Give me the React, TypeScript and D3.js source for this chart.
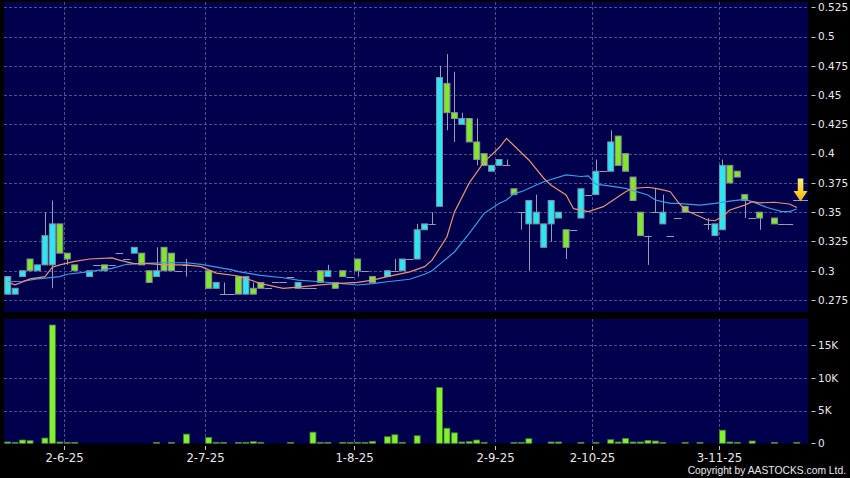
import React, { useEffect, useRef } from 'react';
import * as d3 from 'd3';

// daily bars, null = no bar drawn
const opens = [
  0.28, 0.28, 0.295, 0.31, 0.30, 0.305, 0.305, 0.34, 0.315, 0.305,
  null, 0.295, 0.305, 0.305, 0.305, 0.315, 0.31, 0.315, 0.315, 0.30,
  0.295, 0.32, 0.315, 0.30, 0.305, null, null, 0.30, 0.285, 0.28,
  0.28, 0.295, 0.28, 0.285, 0.29, 0.285, 0.29, 0.29, 0.295, 0.285,
  0.285, 0.285, 0.30, 0.295, 0.29, 0.30, 0.295, 0.31, 0.30, 0.295,
  null, 0.295, 0.30, 0.30, 0.31, 0.31, 0.335, 0.34, 0.355, 0.46,
  0.435, 0.425, 0.43, 0.41, 0.40, 0.385, 0.39, 0.39, 0.37, 0.35,
  0.34, 0.34, 0.32, 0.34, 0.345, 0.335, 0.335, 0.345, 0.365, 0.365,
  0.385, 0.385, 0.415, 0.40, 0.38, 0.35, 0.33, 0.35, 0.34, 0.33,
  0.345, 0.355, 0.35, 0.35, 0.34, 0.33, 0.335, 0.39, 0.385, 0.365,
  0.345, 0.35, null, 0.345, 0.34, 0.34, 0.36, 0.36,
];
const highs = [
  0.295, 0.285, 0.30, 0.31, 0.305, 0.35, 0.36, 0.34, 0.315, 0.305,
  null, 0.30, 0.305, 0.305, 0.305, 0.315, 0.31, 0.32, 0.315, 0.30,
  0.32, 0.32, 0.315, 0.30, 0.31, null, null, 0.30, 0.29, 0.29,
  0.28, 0.295, 0.295, 0.29, 0.29, 0.285, 0.29, 0.29, 0.295, 0.29,
  0.285, 0.285, 0.30, 0.305, 0.29, 0.30, 0.295, 0.31, 0.30, 0.295,
  null, 0.30, 0.31, 0.31, 0.31, 0.34, 0.34, 0.35, 0.475, 0.485,
  0.47, 0.435, 0.43, 0.43, 0.40, 0.39, 0.395, 0.395, 0.37, 0.35,
  0.36, 0.365, 0.34, 0.36, 0.35, 0.335, 0.335, 0.37, 0.365, 0.395,
  0.385, 0.42, 0.415, 0.40, 0.38, 0.35, 0.33, 0.37, 0.365, 0.33,
  0.345, 0.355, 0.35, 0.35, 0.345, 0.34, 0.395, 0.39, 0.385, 0.365,
  0.345, 0.35, null, 0.345, 0.34, 0.34, 0.36, 0.36,
];
const lows = [
  0.28, 0.28, 0.295, 0.30, 0.30, 0.305, 0.285, 0.315, 0.305, 0.30,
  null, 0.295, 0.305, 0.30, 0.305, 0.315, 0.31, 0.315, 0.305, 0.29,
  0.295, 0.30, 0.30, 0.30, 0.295, null, null, 0.285, 0.285, 0.28,
  0.28, 0.28, 0.28, 0.28, 0.285, 0.285, 0.29, 0.29, 0.295, 0.285,
  0.285, 0.285, 0.29, 0.295, 0.285, 0.295, 0.295, 0.295, 0.30, 0.29,
  null, 0.295, 0.30, 0.30, 0.31, 0.31, 0.335, 0.34, 0.355, 0.42,
  0.41, 0.425, 0.41, 0.39, 0.39, 0.385, 0.39, 0.39, 0.365, 0.335,
  0.30, 0.34, 0.32, 0.325, 0.345, 0.31, 0.335, 0.345, 0.365, 0.365,
  0.385, 0.385, 0.39, 0.385, 0.36, 0.33, 0.305, 0.35, 0.34, 0.33,
  0.345, 0.35, 0.35, 0.35, 0.335, 0.33, 0.335, 0.375, 0.38, 0.345,
  0.345, 0.335, null, 0.34, 0.34, 0.34, 0.36, 0.36,
];
const closes = [
  0.295, 0.285, 0.30, 0.30, 0.305, 0.33, 0.34, 0.315, 0.31, 0.30,
  null, 0.30, 0.305, 0.30, 0.305, 0.315, 0.31, 0.32, 0.305, 0.29,
  0.30, 0.30, 0.30, 0.30, 0.305, null, null, 0.285, 0.29, 0.28,
  0.28, 0.28, 0.295, 0.28, 0.285, 0.285, 0.29, 0.29, 0.295, 0.29,
  0.285, 0.285, 0.29, 0.30, 0.285, 0.295, 0.295, 0.30, 0.30, 0.29,
  null, 0.30, 0.30, 0.31, 0.31, 0.335, 0.34, 0.34, 0.465, 0.435,
  0.43, 0.43, 0.41, 0.395, 0.39, 0.39, 0.395, 0.39, 0.365, 0.35,
  0.36, 0.35, 0.34, 0.36, 0.35, 0.32, 0.335, 0.37, 0.365, 0.385,
  0.385, 0.41, 0.39, 0.385, 0.36, 0.33, 0.33, 0.35, 0.35, 0.33,
  0.345, 0.35, 0.35, 0.35, 0.34, 0.34, 0.39, 0.375, 0.38, 0.36,
  0.345, 0.345, null, 0.34, 0.34, 0.34, 0.36, 0.36,
];
const volumes = [
  200, 100, 500, 400, 0, 800, 18050, 200, 50, 150,
  0, 0, 0, 0, 0, 0, 0, 0, 0, 0,
  100, 0, 100, 0, 1400, 0, 0, 900, 100, 80,
  0, 100, 100, 250, 80, 0, 0, 0, 100, 0,
  0, 1700, 150, 100, 0, 100, 150, 150, 150, 300,
  0, 1000, 1300, 100, 0, 1150, 0, 0, 8500, 2300,
  1600, 200, 250, 500, 100, 0, 0, 0, 100, 50,
  700, 0, 0, 200, 200, 0, 0, 100, 0, 100,
  0, 550, 200, 750, 200, 200, 450, 350, 100, 0,
  0, 100, 0, 50, 0, 0, 2000, 200, 100, 0,
  350, 0, 0, 50, 0, 0, 150, 0,
];

// moving averages: [bar index, value]
const maShort: [number, number][] = [
  [0, 0.29], [1, 0.288], [3, 0.293], [5, 0.295], [6, 0.303], [7, 0.305], [9, 0.308],
  [11, 0.31], [14, 0.311], [15, 0.309], [17, 0.306], [19, 0.306], [21, 0.305], [24, 0.305],
  [26, 0.3035], [28, 0.298], [31, 0.2955], [34, 0.289], [37, 0.285], [39, 0.286], [42, 0.288],
  [44, 0.289], [47, 0.29], [49, 0.292], [51, 0.295], [54, 0.299], [56, 0.3035], [57, 0.309],
  [59, 0.329], [60, 0.35], [62, 0.375], [64, 0.393], [66, 0.405], [67, 0.413], [70, 0.3946],
  [72, 0.379], [73, 0.373], [75, 0.3647], [76, 0.353], [78, 0.3505], [80, 0.3547], [81, 0.359],
  [83, 0.3675], [84, 0.3704], [86, 0.3713], [87, 0.3704], [88, 0.369], [89, 0.3675], [90, 0.359],
  [91, 0.3519], [94, 0.3433], [95, 0.3427], [96, 0.346], [97, 0.3519], [99, 0.356], [100, 0.359],
  [101, 0.358], [103, 0.3585], [105, 0.357], [106, 0.354],
];
const maLong: [number, number][] = [
  [0, 0.2906], [2, 0.291], [4, 0.293], [7, 0.295], [8, 0.297], [11, 0.2992], [14, 0.302],
  [16, 0.3055], [18, 0.3063], [21, 0.3068], [24, 0.3068], [26, 0.3055], [29, 0.302], [30, 0.301],
  [31, 0.2992], [34, 0.296], [37, 0.294], [39, 0.292], [42, 0.2906], [45, 0.289], [47, 0.2878],
  [49, 0.289], [51, 0.2906], [54, 0.2927], [56, 0.297], [57, 0.30], [60, 0.316], [62, 0.332],
  [64, 0.349], [66, 0.3575], [67, 0.3604], [68, 0.366], [69, 0.3675], [71, 0.3732], [72, 0.376],
  [75, 0.3818], [77, 0.3805], [78, 0.381], [79, 0.374], [81, 0.3723], [83, 0.3704], [86, 0.3647],
  [87, 0.3604], [89, 0.3575], [90, 0.3575], [93, 0.356], [95, 0.3575], [97, 0.3595], [99, 0.361],
  [100, 0.359], [102, 0.354], [104, 0.3505], [105, 0.3505], [106, 0.3527],
];

const dateLabels = ['2-6-25', '2-7-25', '1-8-25', '2-9-25', '2-10-25', '3-11-25'];
const dateIndex = [8, 27, 47, 66, 79, 96];
const priceTicks = [0.275, 0.3, 0.325, 0.35, 0.375, 0.4, 0.425, 0.45, 0.475, 0.5, 0.525];
const volumeTicks = [0, 5000, 10000, 15000];

const App: React.FC = () => {
  const svgRef = useRef<SVGSVGElement>(null);

  useEffect(() => {
    if (!svgRef.current) return;
    const svg = d3.select(svgRef.current);
    svg.selectAll('*').remove();

    const width = 850;
    const height = 478;
    const left = 4;
    const right = 808;
    const priceTop = 2;
    const priceBottom = 312;
    const volTop = 319;
    const volBottom = 443.5;
    const font = '"DejaVu Sans", Verdana, sans-serif';
    const gridColor = '#4d4d8f';

    svg.attr('width', width).attr('height', height);
    svg.append('rect').attr('width', width).attr('height', height).attr('fill', '#000000');

    const defs = svg.append('defs');
    const grad = defs.append('linearGradient').attr('id', 'arrowGrad')
      .attr('x1', 0).attr('y1', 0).attr('x2', 0).attr('y2', 1);
    grad.append('stop').attr('offset', '0%').attr('stop-color', '#fff27a');
    grad.append('stop').attr('offset', '100%').attr('stop-color', '#f2b400');

    const x = d3.scaleBand<number>()
      .domain(d3.range(opens.length))
      .range([left, right])
      .paddingInner(0.2)
      .paddingOuter(0.1);
    const step = x.step();
    const bw = x.bandwidth();
    const slotStart = (i: number) => (x(i) as number) - (step - bw) / 2;
    const cx = (i: number) => (x(i) as number) + bw / 2;

    const y = d3.scaleLinear().domain([0.275, 0.525]).range([300, 7.3]);
    const yv = d3.scaleLinear().domain([0, 15000]).range([443.3, 345]);

    // panels
    svg.append('rect').attr('x', left).attr('y', priceTop)
      .attr('width', right - left).attr('height', priceBottom - priceTop).attr('fill', '#00004c');
    svg.append('rect').attr('x', left).attr('y', volTop)
      .attr('width', right - left).attr('height', volBottom - volTop).attr('fill', '#00004c');

    const grid = svg.append('g')
      .attr('stroke', gridColor).attr('stroke-width', 1).attr('stroke-dasharray', '3,2')
      .attr('shape-rendering', 'crispEdges');
    grid.selectAll('.hp').data(priceTicks).join('line')
      .attr('x1', left).attr('x2', right)
      .attr('y1', d => Math.round(y(d)) + 0.5).attr('y2', d => Math.round(y(d)) + 0.5);
    grid.selectAll('.hv').data(volumeTicks.slice(1)).join('line')
      .attr('x1', left).attr('x2', right)
      .attr('y1', d => Math.round(yv(d)) + 0.5).attr('y2', d => Math.round(yv(d)) + 0.5);
    dateIndex.forEach(i => {
      const gx = Math.round(slotStart(i)) + 0.5;
      grid.append('line').attr('x1', gx).attr('x2', gx).attr('y1', priceTop).attr('y2', priceBottom);
      grid.append('line').attr('x1', gx).attr('x2', gx).attr('y1', volTop).attr('y2', volBottom);
    });

    // candles
    const candles = svg.append('g');
    opens.forEach((o, i) => {
      const c = closes[i];
      const h = highs[i];
      const l = lows[i];
      if (o == null || c == null || h == null || l == null) return;
      if (h > l) {
        candles.append('line')
          .attr('x1', Math.round(cx(i)) + 0.5).attr('x2', Math.round(cx(i)) + 0.5)
          .attr('y1', y(h)).attr('y2', y(l))
          .attr('stroke', '#9c9cb0').attr('stroke-width', 1);
      }
      if (o === c) {
        candles.append('line')
          .attr('x1', slotStart(i)).attr('x2', slotStart(i) + step)
          .attr('y1', Math.round(y(o)) + 0.5).attr('y2', Math.round(y(o)) + 0.5)
          .attr('stroke', '#9c9cb0').attr('stroke-width', 1);
        return;
      }
      const top = y(Math.max(o, c));
      const bot = y(Math.min(o, c));
      candles.append('rect')
        .attr('x', x(i) as number).attr('y', top)
        .attr('width', bw).attr('height', bot - top)
        .attr('fill', c > o ? '#27e8f4' : '#7fe82b')
        .attr('stroke', '#8c8ca0').attr('stroke-width', 1);
    });

    // moving averages
    const line = d3.line<[number, number]>().x(d => cx(d[0])).y(d => y(d[1]));
    svg.append('path').attr('d', line(maLong)).attr('fill', 'none')
      .attr('stroke', '#3d9be6').attr('stroke-width', 1.2);
    svg.append('path').attr('d', line(maShort)).attr('fill', 'none')
      .attr('stroke', '#e49570').attr('stroke-width', 1.2);

    // volume bars
    svg.append('g').selectAll('rect')
      .data(volumes.map((v, i) => ({ v, i })).filter(d => d.v > 0))
      .join('rect')
      .attr('x', d => x(d.i) as number)
      .attr('y', d => Math.min(yv(d.v), yv(0) - 1))
      .attr('width', bw)
      .attr('height', d => Math.max(1, yv(0) - yv(d.v)))
      .attr('fill', '#7ef22c')
      .attr('stroke', '#4f7a3a').attr('stroke-width', 0.8);

    // last price arrow
    const ax = slotStart(opens.length - 1);
    const lastY = y(closes[closes.length - 1] as number);
    svg.append('path')
      .attr('d', `M${ax - 2.8},${lastY - 22} L${ax + 2.8},${lastY - 22} L${ax + 2.8},${lastY - 9.5}`
        + ` L${ax + 7},${lastY - 9.5} L${ax},${lastY + 1} L${ax - 7},${lastY - 9.5}`
        + ` L${ax - 2.8},${lastY - 9.5} Z`)
      .attr('fill', 'url(#arrowGrad)');

    // right axis
    const axis = svg.append('g').attr('font-family', font).attr('fill', '#e8e8e8').attr('font-size', '10.5px');
    const tickRows = [
      ...priceTicks.map(t => ({ yy: y(t), label: String(t) })),
      ...volumeTicks.map(t => ({ yy: yv(t), label: t === 0 ? '0' : `${t / 1000}K` })),
    ];
    tickRows.forEach(r => {
      axis.append('line').attr('x1', 811.5).attr('x2', 815.5)
        .attr('y1', Math.round(r.yy) + 0.5).attr('y2', Math.round(r.yy) + 0.5)
        .attr('stroke', '#c8c8c8');
      axis.append('text').attr('x', 818).attr('y', r.yy).attr('dy', '0.36em').text(r.label);
    });

    // date axis
    const dates = svg.append('g').attr('font-family', font).attr('fill', '#e8e8e8').attr('font-size', '11.7px');
    dateIndex.forEach((i, k) => {
      const gx = Math.round(slotStart(i)) + 0.5;
      dates.append('line').attr('x1', gx).attr('x2', gx).attr('y1', 446).attr('y2', 450)
        .attr('stroke', '#c8c8c8');
      dates.append('text').attr('x', gx).attr('y', 461.7).attr('text-anchor', 'middle').text(dateLabels[k]);
    });

    svg.append('text')
      .attr('x', 846).attr('y', 474).attr('text-anchor', 'end')
      .attr('font-family', '"Liberation Sans", Arial, sans-serif').attr('font-size', '10.3px')
      .attr('fill', '#e8e8e8')
      .text('Copyright by AASTOCKS.com Ltd.');
  }, []);

  return <svg ref={svgRef} style={{ position: 'absolute', left: 0, top: 0, display: 'block' }}></svg>;
};

export default App;
